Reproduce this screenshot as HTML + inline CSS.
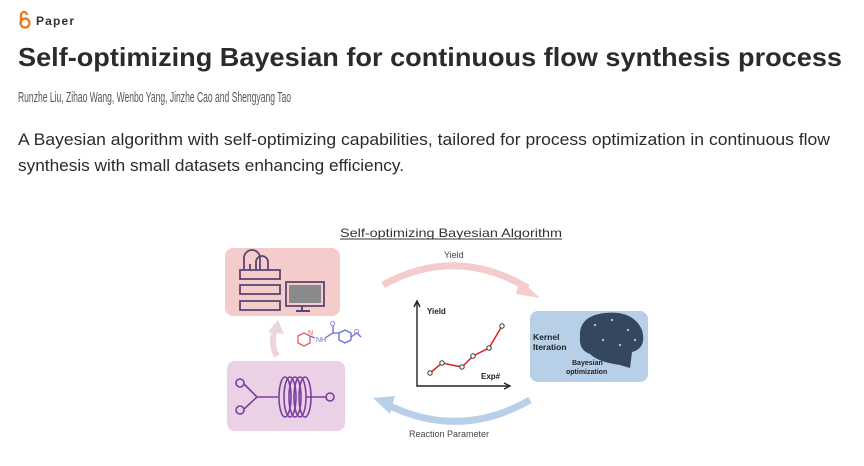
<!DOCTYPE html>
<html><head><meta charset="utf-8"><style>
html,body{margin:0;padding:0;background:#fff;width:864px;height:466px;overflow:hidden}
svg{display:block;font-family:"Liberation Sans",sans-serif}
</style></head><body>
<svg width="864" height="466" viewBox="0 0 864 466">
<!-- header -->
<g fill="none" stroke="#e8771c" stroke-width="2.2"><circle cx="25" cy="23" r="4.5"/><path d="M21,23 V15 a3,3 0 0 1 6,0"/></g>
<text x="36" y="25" font-size="12" font-weight="bold" fill="#333" textLength="38">Paper</text>
<text x="18" y="66" font-size="26" font-weight="bold" fill="#2b2b2b" textLength="824" lengthAdjust="spacingAndGlyphs">Self-optimizing Bayesian for continuous flow synthesis process</text>
<text x="18" y="102" font-size="15" fill="#555" textLength="273" lengthAdjust="spacingAndGlyphs">Runzhe Liu, Zihao Wang, Wenbo Yang, Jinzhe Cao and Shengyang Tao</text>
<text x="18" y="145" font-size="17" fill="#2b2b2b" textLength="812" lengthAdjust="spacingAndGlyphs">A Bayesian algorithm with self-optimizing capabilities, tailored for process optimization in continuous flow</text>
<text x="18" y="171" font-size="17" fill="#2b2b2b" textLength="386" lengthAdjust="spacingAndGlyphs">synthesis with small datasets enhancing efficiency.</text>
<!-- diagram title -->
<text x="340" y="237" font-size="12" fill="#333" textLength="222" lengthAdjust="spacingAndGlyphs">Self-optimizing Bayesian Algorithm</text>
<line x1="340" y1="239" x2="562" y2="239" stroke="#333" stroke-width="1"/>
<!-- pink box -->
<rect x="225" y="248" width="115" height="68" rx="8" fill="#f4cccc"/>
<g fill="none" stroke="#5a4770" stroke-width="1.8">
<rect x="240" y="270" width="40" height="9"/><rect x="240" y="285" width="40" height="9"/><rect x="240" y="301" width="40" height="9"/>
<path d="M244,270 v-12 a8,8 0 0 1 16,0 v12 M256,270 v-8 a6,6 0 0 1 12,0 v8 M250,270 v-6"/>
<rect x="286" y="282" width="38" height="24"/>
</g>
<rect x="289" y="285" width="32" height="18" fill="#8a8a8a"/>
<path d="M302,306 v5 M296,311 h14" stroke="#5a4770" stroke-width="2"/>
<!-- purple box -->
<rect x="227" y="361" width="118" height="70" rx="8" fill="#ead1e6"/>
<g fill="none" stroke="#7b3fa0" stroke-width="1.6">
<circle cx="240" cy="383" r="4"/><circle cx="240" cy="410" r="4"/><circle cx="330" cy="397" r="4"/>
<path d="M244,384 L257,397 L244,409 M257,397 H278 M306,397 H326"/>
<ellipse cx="285" cy="397" rx="6" ry="20"/><ellipse cx="290" cy="397" rx="6" ry="20"/><ellipse cx="295" cy="397" rx="6" ry="20"/><ellipse cx="300" cy="397" rx="6" ry="20"/><ellipse cx="305" cy="397" rx="6" ry="20"/>
</g>
<!-- up arrow -->
<path d="M277,356 Q270,345 275,330" fill="none" stroke="#ecd6dc" stroke-width="6"/>
<path d="M268,332 L278,320 L284,334 z" fill="#ecd6dc"/>
<!-- molecule -->
<g fill="none" stroke-width="1.3">
<polygon points="298,336 304,333 310,336 310,343 304,346 298,343" stroke="#e06060"/>
<polygon points="339,333 345,330 351,333 351,340 345,343 339,340" stroke="#6a6ad8"/>
<path d="M310,336 L315,338 M325,338 L333,333 L339,333 M333,333 V326 M351,337 L357,333 L361,337" stroke="#6a6ad8"/>
</g>
<text x="308" y="335" font-size="7" fill="#e06060">N</text>
<text x="316" y="342" font-size="7" fill="#6a6ad8">NH</text>
<text x="330" y="326" font-size="7" fill="#6a6ad8">O</text>
<text x="354" y="334" font-size="7" fill="#6a6ad8">O</text>
<!-- arcs -->
<path d="M383,285 Q455,245 528,288" fill="none" stroke="#f4cccc" stroke-width="7"/>
<path d="M520,280 L540,298 L516,294 z" fill="#f4cccc"/>
<text x="444" y="258" font-size="9" fill="#444">Yield</text>
<path d="M530,400 Q460,440 388,405" fill="none" stroke="#b8cfe8" stroke-width="7"/>
<path d="M395,396 L373,398 L390,414 z" fill="#b8cfe8"/>
<text x="409" y="437" font-size="9" fill="#444">Reaction Parameter</text>
<!-- chart -->
<g stroke="#222" stroke-width="1.4" fill="none">
<path d="M417,303 V386 H508"/>
<path d="M414,307 L417,301 L420,307 M504,383 L510,386 L504,389"/>
</g>
<text x="427" y="314" font-size="8" font-weight="bold" fill="#222">Yield</text>
<text x="481" y="379" font-size="8" font-weight="bold" fill="#222">Exp#</text>
<polyline points="430,373 442,363 462,367 473,356 489,348 502,326" fill="none" stroke="#e02020" stroke-width="1.5"/>
<g fill="#fff" stroke="#333" stroke-width="1"><circle cx="430" cy="373" r="2.2"/><circle cx="442" cy="363" r="2.2"/><circle cx="462" cy="367" r="2.2"/><circle cx="473" cy="356" r="2.2"/><circle cx="489" cy="348" r="2.2"/><circle cx="502" cy="326" r="2.2"/></g>
<!-- blue box -->
<rect x="530" y="311" width="118" height="71" rx="8" fill="#b8cfe8"/>
<path d="M580,338 Q578,316 605,313 Q633,310 642,330 Q647,348 632,352 L630,368 L620,365 Q598,362 590,354 Q579,350 580,338 z" fill="#34475f"/>
<g stroke="#9fb3c9" stroke-width="0.5" fill="#d0dbe8"><circle cx="595" cy="325" r="1"/><circle cx="612" cy="320" r="1"/><circle cx="628" cy="330" r="1"/><circle cx="603" cy="340" r="1"/><circle cx="620" cy="345" r="1"/><circle cx="635" cy="340" r="1"/></g>
<text x="533" y="340" font-size="8.5" font-weight="bold" fill="#222">Kernel</text>
<text x="533" y="350" font-size="8.5" font-weight="bold" fill="#222">Iteration</text>
<text x="572" y="365" font-size="7" font-weight="bold" fill="#222">Bayesian</text>
<text x="566" y="374" font-size="7" font-weight="bold" fill="#222">optimization</text>
</svg>
</body></html>
